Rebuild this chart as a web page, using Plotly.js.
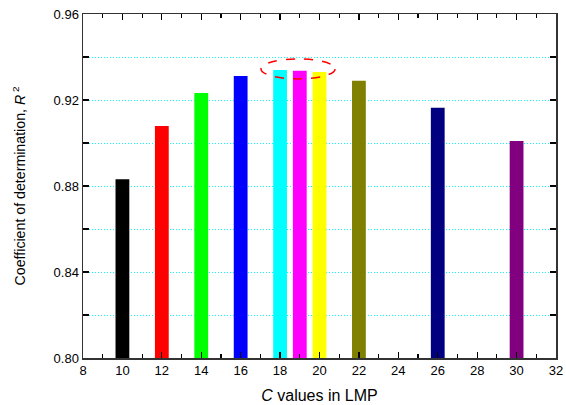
<!DOCTYPE html>
<html><head><meta charset="utf-8">
<script src="https://cdn.plot.ly/plotly-3.0.1.min.js"></script>
<style>body{margin:0;padding:0;background:#fff}#c{width:566px;height:405px}</style>
</head><body><div id="c"></div>
<script>
var cValues = [10, 12, 14, 16, 18, 19, 20, 22, 26, 30];
var r2Values = [0.8831, 0.9079, 0.9233, 0.9312, 0.9340, 0.9336, 0.9330, 0.9290, 0.9164, 0.9009];
var barColors = ['#000000','#ff0000','#00ff00','#0000ff','#00ffff','#ff00ff','#ffff00','#808000','#000080','#800080'];
var yTickVals = [0.80, 0.82, 0.84, 0.86, 0.88, 0.90, 0.92, 0.94, 0.96];
var yTickText = ['0.80', ' ', '0.84', ' ', '0.88', ' ', '0.92', ' ', '0.96'];

var trace = {type:'bar', x:cValues, y:r2Values, width:0.7, base:0,
  marker:{color:barColors, line:{width:0}}, hoverinfo:'x+y'};

var axisFont = {family:'Liberation Sans, Arial, sans-serif', size:13, color:'#000'};
var layout = {
  width:566, height:405,
  margin:{l:83, r:10, t:14, b:47},
  paper_bgcolor:'#fff', plot_bgcolor:'#fff',
  showlegend:false,
  font:axisFont,
  xaxis:{range:[8,32], dtick:2, tick0:8, ticks:'inside', ticklen:6, tickwidth:1.2, tickcolor:'#000',
    showline:true, linecolor:'#333', linewidth:1.5, mirror:'ticks', showgrid:false, zeroline:false,
    minor:{dtick:1, ticks:'inside', ticklen:4, tickcolor:'#000', showgrid:false},
    tickfont:axisFont,
    title:{text:'<i>C</i> values in LMP', font:{family:'Liberation Sans, Arial, sans-serif', size:16, color:'#000'}, standoff:12}},
  yaxis:{range:[0.80,0.96], tickmode:'array', tickvals:yTickVals, ticktext:yTickText,
    ticks:'inside', ticklen:6, tickwidth:1.2, tickcolor:'#000',
    showline:true, linecolor:'#333', linewidth:1.5, mirror:'ticks', zeroline:false,
    showgrid:true, gridcolor:'#00ffff', griddash:'1px,2px', gridwidth:1,
    tickfont:axisFont,
    title:{text:'Coefficient of determination, <i>R</i><sup> 2</sup>', font:{family:'Liberation Sans, Arial, sans-serif', size:14.2, color:'#000'}, standoff:24}},
  shapes:[{type:'circle', xref:'x', yref:'y', x0:17.03, x1:20.79, y0:0.9298, y1:0.9391,
    line:{color:'#ff0000', width:1.5, dash:'dash'}, fillcolor:'rgba(0,0,0,0)', layer:'above'}]
};
Plotly.newPlot('c', [trace], layout, {staticPlot:true});
</script></body></html>
